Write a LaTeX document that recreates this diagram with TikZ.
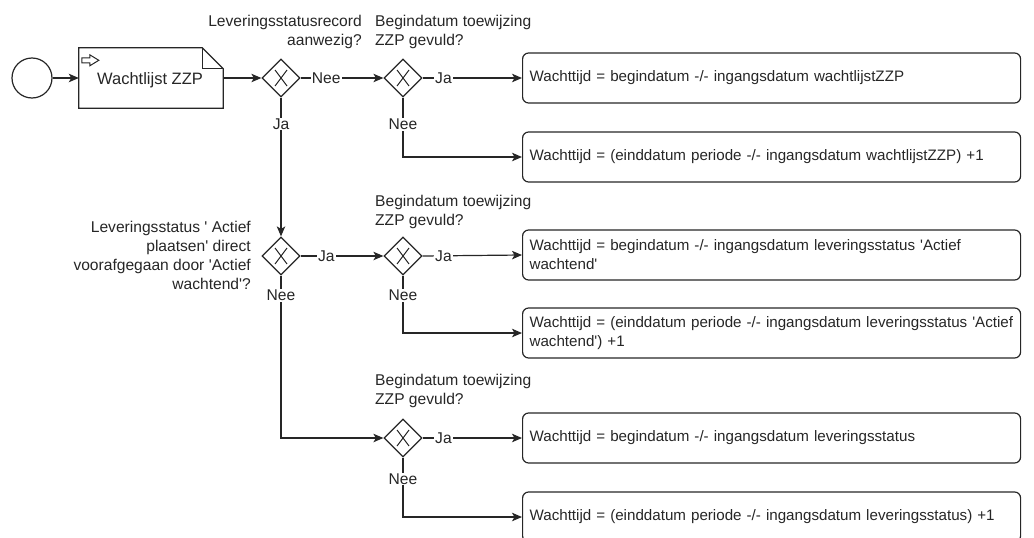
\documentclass[tikz,border=0pt]{standalone}
\usepackage{fontspec}
\setmainfont{Liberation Sans}[Ligatures=TeXOff]
\usetikzlibrary{arrows.meta,shapes.geometric,calc}
\begin{document}
\begin{tikzpicture}[x=1pt,y=-1pt,
  every node/.style={font=\fontsize{15.6}{19}\selectfont, text=black!85},
  ln/.style={line width=1.2pt, draw=black!85},
  arr/.style={ln, -{Stealth[length=10pt,width=8.5pt,inset=2.5pt]}},
  gw/.style={diamond, ln, minimum width=38pt, minimum height=38pt, inner sep=0pt,
    path picture={\draw[line width=1pt,black!85] ($(path picture bounding box.center)+(-6,-8)$) -- ($(path picture bounding box.center)+(6,8)$)
      ($(path picture bounding box.center)+(6,-8)$) -- ($(path picture bounding box.center)+(-6,8)$);}},
  lab/.style={fill=white, inner sep=1pt},
  qlab/.style={inner sep=0pt},
  box/.style={ln, rounded corners=6pt, anchor=west, minimum width=498pt, minimum height=50pt,
    text width=484pt, inner xsep=7pt, inner ysep=4pt, align=left, font=\fontsize{15.15}{19}\selectfont}
]
\useasboundingbox (0,0) rectangle (1034,538);
\clip (0,0) rectangle (1034,538);

% start event
\node[circle, ln, minimum size=40pt, inner sep=0pt] (s) at (32,78) {};

% task
\node[minimum width=144pt, minimum height=60pt, inner sep=0pt] (t) at (151,78) {};
\node[font=\fontsize{16.5}{19}\selectfont] at (150,80) (tt) {Wachtlijst ZZP};
\draw[ln] (t.north west) -- ($(t.north east)+(-21,0)$) -- ($(t.north east)+(0,21)$)
  -- (t.south east) -- (t.south west) -- cycle;
\draw[ln] ($(t.north east)+(-21,0)$) |- ($(t.north east)+(0,21)$);
\draw[line width=1pt, black!85] ($(t.north west)+(3,10)$) -- ($(t.north west)+(11,10)$) -- ($(t.north west)+(11,7)$)
  -- ($(t.north west)+(20,12.5)$) -- ($(t.north west)+(11,18)$) -- ($(t.north west)+(11,15)$)
  -- ($(t.north west)+(3,15)$) -- cycle;

% gateways
\node[gw] (g1) at (281,78) {};
\node[gw] (g2) at (403,78) {};
\node[gw] (g3) at (281,256) {};
\node[gw] (g4) at (403,256) {};
\node[gw] (g5) at (403,438) {};

% gateway labels
\node[qlab, anchor=east, align=right] (q1) at (362,32) {Leveringsstatusrecord\\aanwezig?};
\node[qlab, anchor=west, align=left] (q2) at (375,32) {Begindatum toewijzing\\ZZP gevuld?};
\node[qlab, anchor=east, align=right] (q3) at (251,255) {Leveringsstatus ' Actief\\plaatsen' direct\\voorafgegaan door 'Actief\\wachtend'?};
\node[qlab, anchor=west, align=left] (q4) at (375,212) {Begindatum toewijzing\\ZZP gevuld?};
\node[qlab, anchor=west, align=left] (q5) at (375,391) {Begindatum toewijzing\\ZZP gevuld?};

% result boxes
\node[box] (b1) at (522,78) {Wachttijd = begindatum -/- ingangsdatum wachtlijstZZP};
\node[box] (b2) at (522,157) {Wachttijd = (einddatum periode -/- ingangsdatum wachtlijstZZP) +1};
\node[box] (b3) at (522,255) {\mbox{Wachttijd = begindatum -/- ingangsdatum leveringsstatus 'Actief}\\wachtend'};
\node[box] (b4) at (522,333) {\mbox{Wachttijd = (einddatum periode -/- ingangsdatum leveringsstatus 'Actief}\\wachtend') +1};
\node[box] (b5) at (522,438) {Wachttijd = begindatum -/- ingangsdatum leveringsstatus};
\node[box] (b6) at (522,517) {Wachttijd = (einddatum periode -/- ingangsdatum leveringsstatus) +1};

% connectors
\draw[arr] (s) -- (t.west);
\draw[arr] (t.east) -- (g1.west);
\draw[arr] (g1.east) -- node[lab, pos=0.31] {Nee} (g2.west);
\draw[arr] (g2.east) -- node[lab, pos=0.21] {Ja} (b1.west);
\draw[arr] (g2.south) |- node[lab, pos=0.225] {Nee} (b2.west);
\draw[arr] (g1.south) -- node[lab, pos=0.19] {Ja} (g3.north);
\draw[arr] (g3.east) -- node[lab, pos=0.31] {Ja} (g4.west);
\draw[arr] (g4.east) -- node[lab, pos=0.21] {Ja} (b3.west);
\draw[arr] (g4.south) |- node[lab, pos=0.17] {Nee} (b4.west);
\draw[arr] (g3.south) |- node[lab, pos=0.06] {Nee} (g5.west);
\draw[arr] (g5.east) -- node[lab, pos=0.21] {Ja} (b5.west);
\draw[arr] (g5.south) |- node[lab, pos=0.18] {Nee} (b6.west);
\end{tikzpicture}
\end{document}
